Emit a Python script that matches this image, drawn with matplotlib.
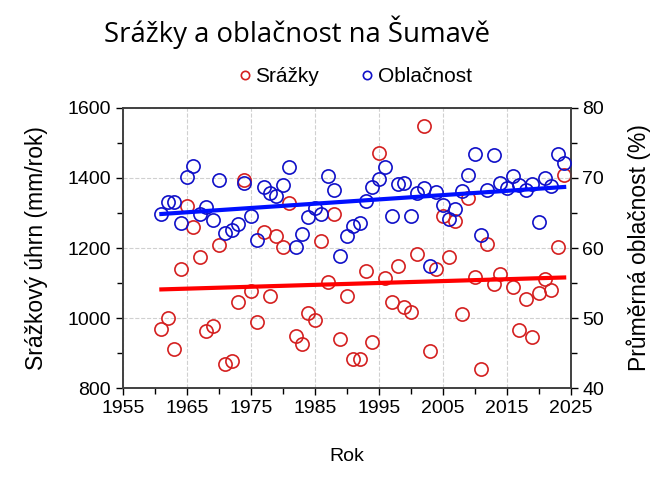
import numpy as np
import matplotlib.pyplot as plt
from matplotlib.ticker import MultipleLocator
from matplotlib.lines import Line2D

years = list(range(1961, 2025))

# annual precipitation (mm/rok), 2015 not visible in the source
srazky = [970, 1000, 911, 1139, 1321, 1261, 1173, 962, 977, 1208,
          870, 878, 1047, 1394, 1077, 988, 1245, 1063, 1234, 1202,
          1328, 950, 925, 1015, 994, 1221, 1104, 1297, 942, 1063,
          885, 884, 1134, 931, 1471, 1114, 1047, 1150, 1033, 1018,
          1182, 1549, 906, 1139, 1290, 1174, 1276, 1013, 1344, 1118,
          855, 1211, 1096, 1126, np.nan, 1089, 965, 1055, 945, 1072,
          1113, 1081, 1203, 1408]

# mean cloudiness (%)
oblacnost = [64.8, 66.5, 66.6, 63.5, 70.1, 71.7, 64.9, 65.8, 64.0, 69.7,
             62.2, 62.5, 63.4, 69.3, 64.5, 61.2, 68.7, 67.9, 67.4, 69.0,
             71.6, 60.1, 62.0, 64.4, 65.7, 64.9, 70.3, 68.2, 58.9, 61.7,
             63.1, 63.5, 66.7, 68.7, 69.9, 71.6, 64.6, 69.1, 69.3, 64.6,
             67.9, 68.6, 57.5, 68.0, 66.1, 64.1, 65.6, 68.1, 70.4, 73.4,
             61.9, 68.3, 73.3, 69.3, 68.5, 70.3, 69.0, 68.3, 69.1, 63.7,
             70.0, 68.8, 73.4, 72.1]

# linear trends as drawn in the source (value at first and last year)
trend_years = [1961, 2024]
trend_srazky = [1082, 1116]
trend_oblacnost = [64.85, 68.7]

x_ticks = list(range(1955, 2026, 10))
x_minor = list(range(1960, 2025, 10))

plt.rcParams['font.family'] = ['Liberation Sans', 'DejaVu Sans']

fig = plt.figure(figsize=(6.66, 4.8), dpi=100)
ax = fig.add_axes([0.1847, 0.191, 0.672, 0.5846])
ax2 = ax.twinx()

red_pt = '#d42020'
blue_pt = '#1010c8'

ax.plot(years, srazky, 'o', mfc='none', mec=red_pt, ms=9.5, mew=1.2, zorder=3)
ax2.plot(years, oblacnost, 'o', mfc='none', mec=blue_pt, ms=9.5, mew=1.2, zorder=3)

ax.plot(trend_years, trend_srazky, color='#ff0000', lw=3, zorder=4)
ax2.plot(trend_years, trend_oblacnost, color='#0010ff', lw=3, zorder=4)

ax.set_xlim(1955, 2025)
ax.set_ylim(800, 1600)
ax2.set_ylim(40, 80)

ax.set_xticks(x_ticks)
ax.set_xticks(x_minor, minor=True)
ax.yaxis.set_major_locator(MultipleLocator(200))
ax.yaxis.set_minor_locator(MultipleLocator(100))
ax2.yaxis.set_major_locator(MultipleLocator(10))
ax2.yaxis.set_minor_locator(MultipleLocator(5))

ax.grid(True, which='major', color='#d0d0d0', ls='--', lw=0.8)
ax.set_axisbelow(True)

for a in (ax, ax2):
    a.tick_params(which='major', length=5, width=1, labelsize=14, direction='out')
    a.tick_params(which='minor', length=4, width=1, direction='out')
    for sp in a.spines.values():
        sp.set_color('#404040')
        sp.set_linewidth(1.2)

ax.set_xlabel('Rok', fontsize=14, labelpad=22)
ax.set_ylabel('Srážkový úhrn (mm/rok)', fontsize=16.5, labelpad=14)
ax2.set_ylabel('Průměrná oblačnost (%)', fontsize=16.5, labelpad=16)

fig.text(0.446, 0.932, 'Srážky a oblačnost na Šumavě', fontsize=19.8,
         family=['Open Sans', 'DejaVu Sans'], ha='center', va='center')

handles = [Line2D([], [], ls='none', marker='o', mfc='none', mec=red_pt, ms=6, mew=1.2),
           Line2D([], [], ls='none', marker='o', mfc='none', mec=blue_pt, ms=6, mew=1.2)]
fig.legend(handles, ['Srážky', 'Oblačnost'], loc='center', bbox_to_anchor=(0.53, 0.84),
           ncol=2, frameon=False, fontsize=15, handletextpad=0.0, columnspacing=1.8,
           handlelength=1.0)

fig.savefig('out.png', dpi=100)
